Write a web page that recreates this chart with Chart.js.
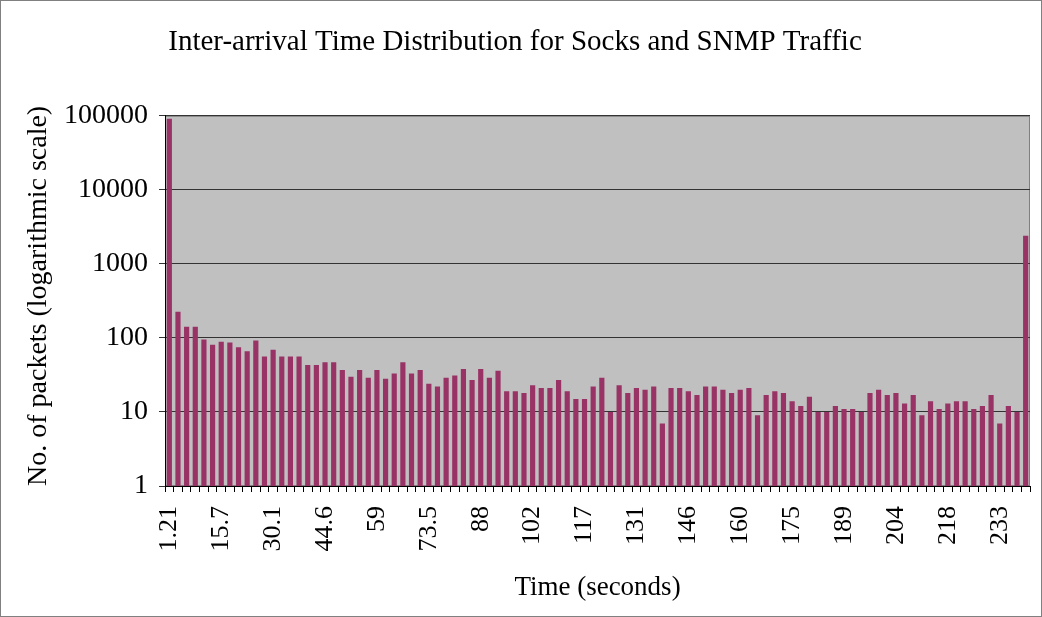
<!DOCTYPE html>
<html>
<head>
<meta charset="utf-8">
<script src="https://cdn.jsdelivr.net/npm/chart.js@4/dist/chart.umd.min.js"></script>
<style>
    body { margin: 0; background: #fff; }
    canvas { display: block; }
</style>
</head>
<body>
<canvas id="iat-chart" width="1042" height="617"></canvas>
<script>
// time bins (seconds), only every 6th one gets a label on the axis
const categories = [
    '1.21', '3.62', '6.03', '8.44', '10.9', '13.3', '15.7', '18.1', '20.5', '22.9',
    '25.3', '27.7', '30.1', '32.5', '35', '37.4', '39.8', '42.2', '44.6', '47',
    '49.4', '51.8', '54.2', '56.6', '59', '61.5', '63.9', '66.3', '68.7', '71.1',
    '73.5', '75.9', '78.3', '80.7', '83.2', '85.6', '88', '90.4', '92.8', '95.2',
    '97.6', '100', '102', '105', '107', '110', '112', '114', '117', '119',
    '122', '124', '127', '129', '131', '134', '136', '139', '141', '143',
    '146', '148', '151', '153', '155', '158', '160', '163', '165', '168',
    '170', '172', '175', '177', '180', '182', '184', '187', '189', '192',
    '194', '196', '199', '201', '204', '206', '208', '211', '213', '216',
    '218', '221', '223', '225', '228', '230', '233', '235', '237', '240'
]
const packets = [
    91000, 226, 142, 142, 95, 81, 89, 87, 75, 66,
    92, 56, 69, 56, 56, 56, 43, 43, 47, 47,
    37, 30, 37, 29, 37, 28, 33, 47, 33, 37,
    24, 22, 29, 31, 38, 27, 38, 29, 36, 19,
    19, 18, 23, 21, 21, 27, 19, 15, 15, 22,
    29, 10, 23, 18, 21, 20, 22, 7, 21, 21,
    19, 17, 22, 22, 20, 18, 20, 21, 9, 17,
    19, 18, 14, 12, 16, 10, 10, 12, 11, 11,
    10, 18, 20, 17, 18, 13, 17, 9, 14, 11,
    13, 14, 14, 11, 12, 17, 7, 12, 10, 2400
]
const yTicks = [1, 10, 100, 1000, 10000, 100000]
const labelEvery = 6

const serif = 'Liberation Serif'

// white page, grey frame, grey plot area
const backdrop = {
    id: 'backdrop',
    beforeDraw(chart) {
        const c = chart.ctx
        const a = chart.chartArea
        c.save()
        c.fillStyle = '#fff'
        c.fillRect(0, 0, chart.width, chart.height)
        c.strokeStyle = '#808080'
        c.lineWidth = 1
        c.strokeRect(0.5, 0.5, chart.width - 1, chart.height - 1)
        c.fillStyle = '#c0c0c0'
        c.fillRect(a.left, a.top, a.right - a.left, a.bottom - a.top)
        c.strokeStyle = '#808080'
        c.strokeRect(a.left + 0.5, a.top + 0.5, a.right - a.left - 1, a.bottom - a.top - 1)
        c.restore()
    }
}

let ctx = document.getElementById('iat-chart')
new Chart(ctx, {
    type: 'bar',
    data: {
        labels: categories,
        datasets: [{
            label: 'Packets',
            data: packets,
            backgroundColor: '#993366',
            barPercentage: 0.6,
            categoryPercentage: 1.0
        }]
    },
    options: {
        responsive: false,
        animation: false,
        layout: {
            padding: {left: 0, right: 12, top: 0, bottom: 0}
        },
        plugins: {
            legend: {display: false},
            tooltip: {enabled: false},
            title: {
                display: true,
                text: 'Inter-arrival Time Distribution for Socks and SNMP Traffic',
                color: '#000',
                font: {family: serif, size: 29, weight: 'normal'},
                padding: {top: 25, bottom: 56}
            }
        },
        scales: {
            x: {
                grid: {
                    drawOnChartArea: false,
                    tickLength: 6,
                    color: '#000'
                },
                border: {color: '#000'},
                ticks: {
                    autoSkip: false,
                    maxRotation: 90,
                    minRotation: 90,
                    padding: 14,
                    color: '#000',
                    font: {family: serif, size: 26},
                    callback: function (val, i) {
                        return i % labelEvery === 0 ? this.getLabelForValue(val) : ''
                    }
                },
                title: {
                    display: true,
                    text: 'Time (seconds)',
                    color: '#000',
                    font: {family: serif, size: 27},
                    padding: {top: 0, bottom: 13}
                },
                afterFit: (scale) => {
                    scale.height = 131
                    // no extra room for the rotated end labels
                    scale.paddingLeft = 0
                    scale.paddingRight = 0
                }
            },
            y: {
                type: 'logarithmic',
                min: 1,
                max: 100000,
                grid: {
                    color: '#333',
                    tickLength: 6
                },
                border: {color: '#000'},
                afterBuildTicks: (scale) => {
                    scale.ticks = yTicks.map(v => ({value: v}))
                },
                ticks: {
                    padding: 11,
                    color: '#000',
                    font: {family: serif, size: 28},
                    callback: (v) => String(v)
                },
                title: {
                    display: true,
                    text: 'No. of packets (logarithmic scale)',
                    align: 'start',
                    color: '#000',
                    font: {family: serif, size: 28},
                    padding: {top: 22, bottom: 0}
                },
                afterFit: (scale) => { scale.width = 165 }
            }
        }
    },
    plugins: [backdrop]
})
</script>
</body>
</html>
